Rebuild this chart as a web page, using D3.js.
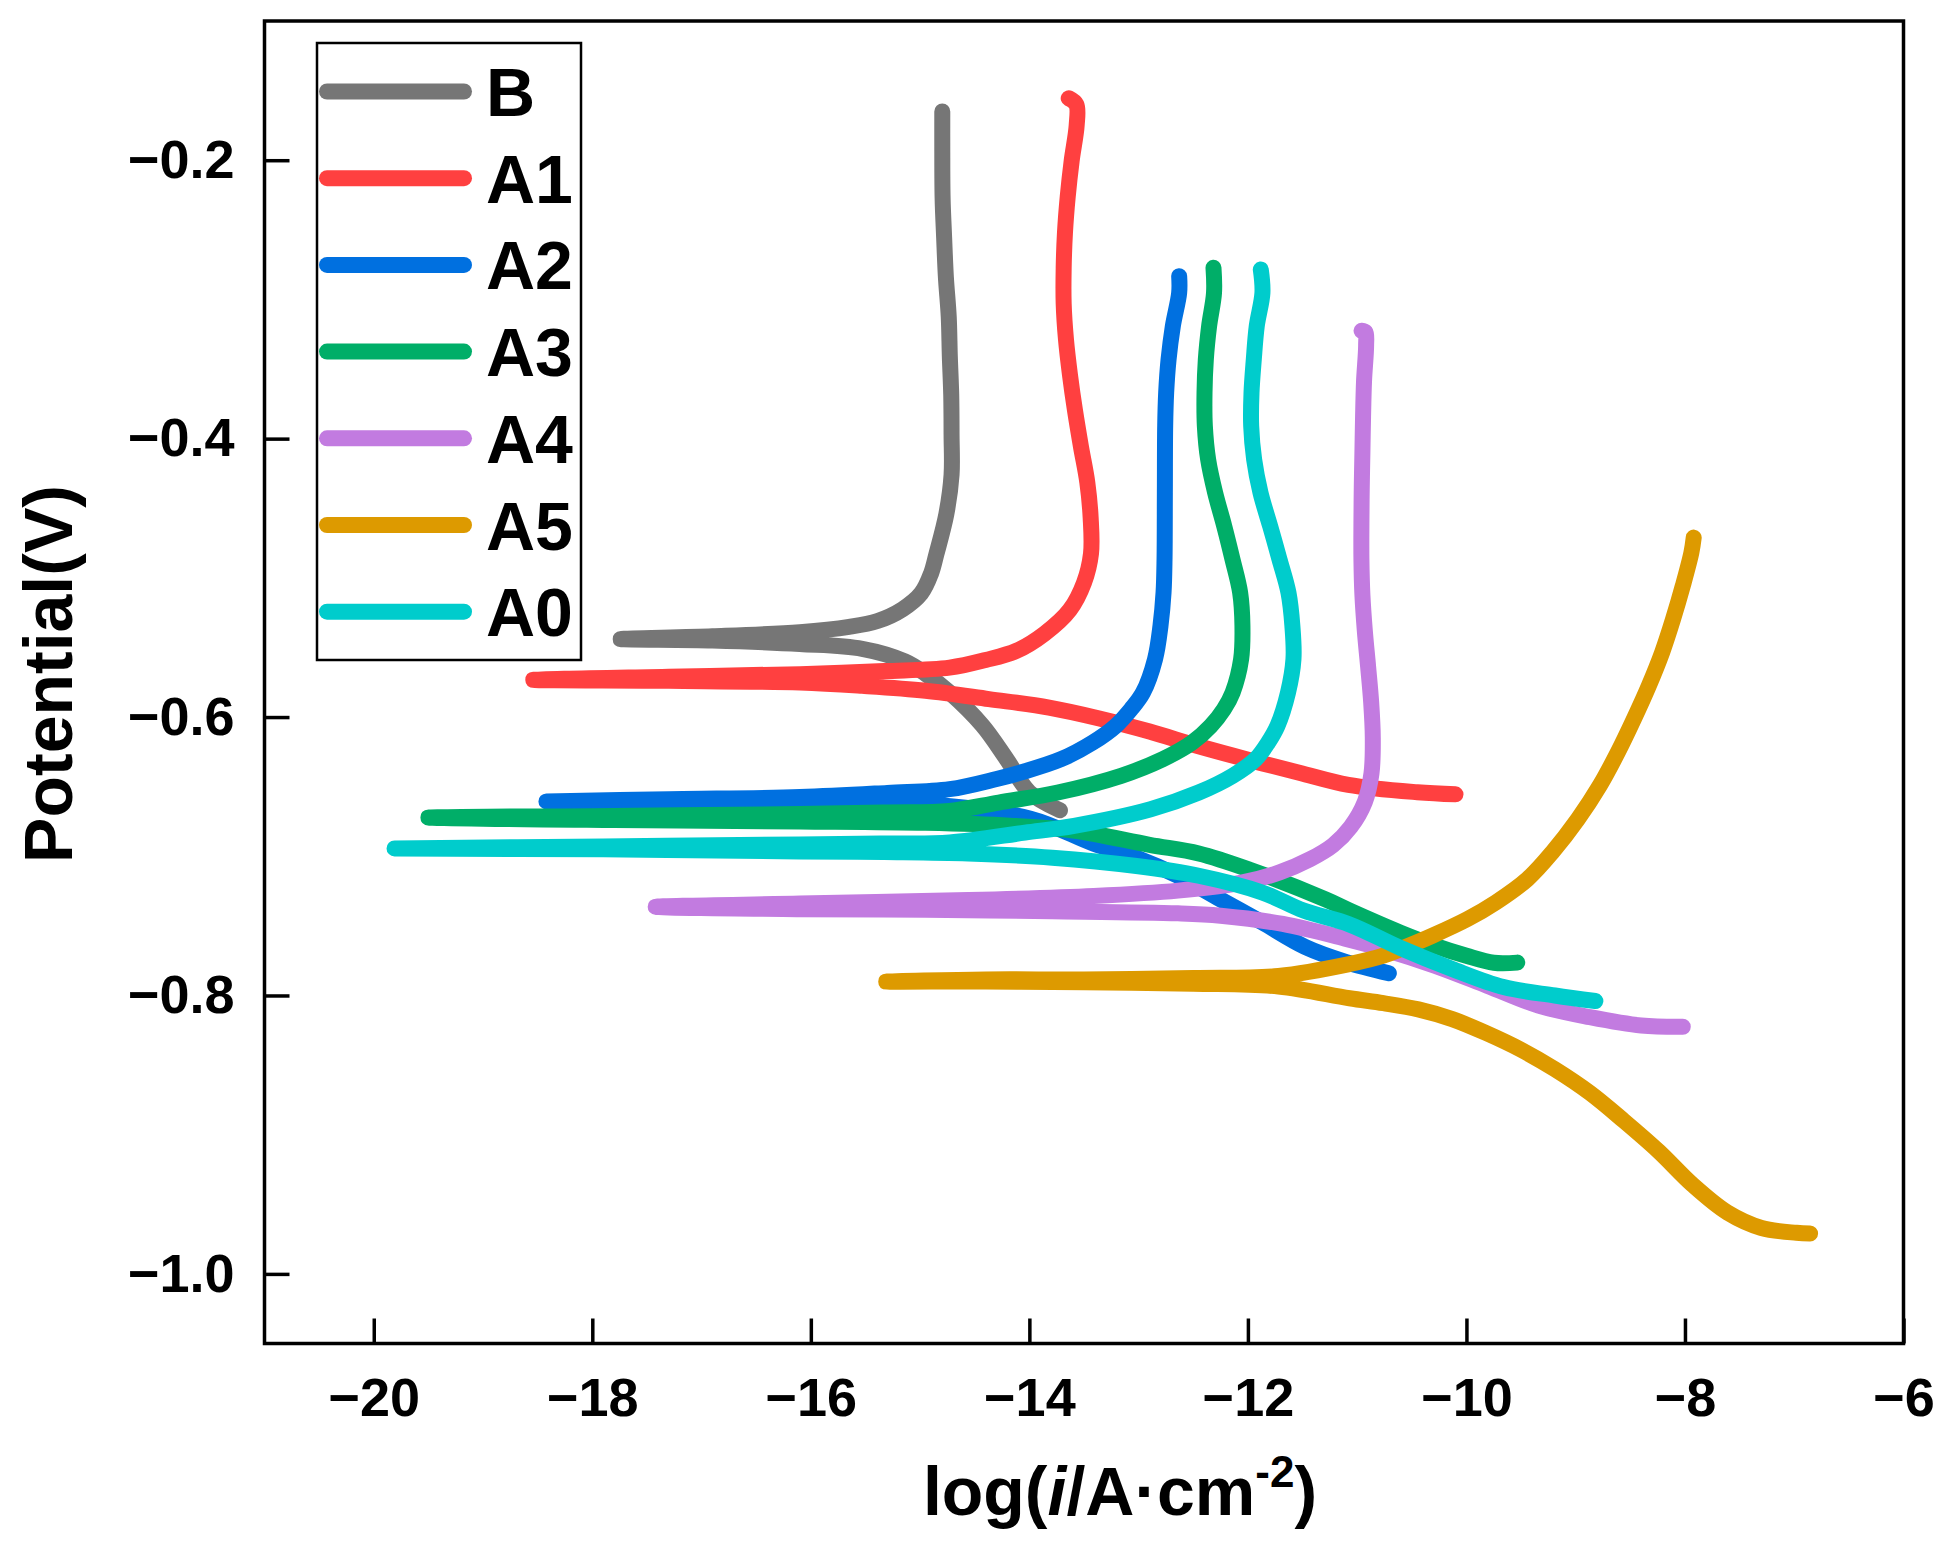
<!DOCTYPE html>
<html>
<head>
<meta charset="utf-8">
<script src="https://cdn.jsdelivr.net/npm/d3@7"></script>
<style>
  html, body { margin: 0; padding: 0; background: #fff; }
  svg { display: block; }
  text { font-family: "Liberation Sans", Arial, Helvetica, sans-serif; font-weight: bold; fill: #000; }
</style>
</head>
<body>
<svg id="chart" width="1947" height="1557"></svg>
<script>
// ---- Data (log i, Potential V), ordered cathodic end -> Ecorr tip -> anodic end ----
const seriesNames = ["B", "A1", "A2", "A3", "A4", "A5", "A0"];
const seriesColors = ["#767676", "#FF4040", "#0070E0", "#00AE68", "#C27BE0", "#DD9A00", "#00CCCC"];

const curveB = [[-13.72,-0.667],[-14.00,-0.654],[-14.21,-0.630],[-14.43,-0.606],[-14.73,-0.5824],[-14.95,-0.569],[-15.14,-0.560],[-15.53,-0.551],[-16.10,-0.5475],[-16.90,-0.545],[-17.74,-0.544],[-16.90,-0.542],[-16.10,-0.539],[-15.65,-0.5352],[-15.39,-0.531],[-15.16,-0.5225],[-14.99,-0.5111],[-14.90,-0.4969],[-14.85,-0.4827],[-14.76,-0.4543],[-14.712,-0.426],[-14.712,-0.3976],[-14.715,-0.369],[-14.728,-0.3408],[-14.738,-0.3124],[-14.764,-0.284],[-14.78,-0.2556],[-14.794,-0.2273],[-14.797,-0.190],[-14.797,-0.165]];

const curveA1 = [[-10.10,-0.6555],[-10.45,-0.654],[-11.08,-0.6487],[-11.53,-0.640],[-11.99,-0.6308],[-12.45,-0.621],[-12.90,-0.6104],[-13.36,-0.601],[-13.82,-0.5932],[-14.37,-0.5871],[-14.95,-0.5811],[-15.53,-0.5776],[-16.10,-0.5752],[-17.30,-0.574],[-18.54,-0.5733],[-17.30,-0.571],[-16.10,-0.5692],[-15.33,-0.567],[-14.73,-0.5645],[-14.40,-0.559],[-14.12,-0.5525],[-13.86,-0.540],[-13.63,-0.523],[-13.50,-0.5035],[-13.436,-0.4826],[-13.439,-0.457],[-13.47,-0.4313],[-13.528,-0.4057],[-13.582,-0.380],[-13.628,-0.3544],[-13.665,-0.3287],[-13.686,-0.3031],[-13.686,-0.2775],[-13.674,-0.2518],[-13.649,-0.2262],[-13.613,-0.2005],[-13.567,-0.1749],[-13.57,-0.160],[-13.64,-0.1555]];

const curveA2 = [[-10.71,-0.784],[-11.10,-0.776],[-11.48,-0.765],[-11.87,-0.7475],[-12.25,-0.731],[-12.64,-0.714],[-13.02,-0.701],[-13.41,-0.691],[-13.99,-0.673],[-14.95,-0.6625],[-16.10,-0.6605],[-17.30,-0.6605],[-18.42,-0.6606],[-17.30,-0.659],[-16.10,-0.6575],[-15.30,-0.6545],[-14.73,-0.6518],[-14.30,-0.6445],[-14.08,-0.6399],[-13.71,-0.6303],[-13.42,-0.6183],[-13.21,-0.6064],[-13.07,-0.5944],[-12.96,-0.5824],[-12.85,-0.5584],[-12.80,-0.5345],[-12.772,-0.5106],[-12.763,-0.4867],[-12.76,-0.4388],[-12.757,-0.3909],[-12.748,-0.367],[-12.726,-0.3431],[-12.687,-0.3192],[-12.629,-0.2952],[-12.629,-0.2833]];

const curveA3 = [[-9.535,-0.7764],[-9.75,-0.7765],[-10.00,-0.7715],[-10.30,-0.764],[-10.60,-0.755],[-11.07,-0.739],[-11.29,-0.731],[-11.99,-0.7095],[-12.45,-0.698],[-12.90,-0.6918],[-13.60,-0.6815],[-14.18,-0.678],[-14.95,-0.676],[-16.10,-0.675],[-17.80,-0.674],[-19.50,-0.6722],[-17.80,-0.671],[-16.10,-0.6697],[-15.30,-0.6685],[-14.73,-0.6674],[-14.28,-0.6614],[-13.74,-0.6542],[-13.16,-0.6422],[-12.78,-0.6303],[-12.51,-0.6183],[-12.34,-0.6064],[-12.22,-0.5944],[-12.14,-0.5824],[-12.062,-0.5584],[-12.05,-0.5345],[-12.071,-0.5106],[-12.141,-0.4867],[-12.217,-0.4627],[-12.30,-0.4388],[-12.364,-0.4149],[-12.394,-0.3909],[-12.397,-0.367],[-12.385,-0.3431],[-12.355,-0.3192],[-12.31,-0.2952],[-12.315,-0.2773]];

const curveA4 = [[-8.02,-0.8225],[-8.40,-0.8216],[-8.87,-0.8156],[-9.34,-0.8073],[-9.81,-0.793],[-10.29,-0.7786],[-10.76,-0.7666],[-11.10,-0.7594],[-11.68,-0.7486],[-12.25,-0.7427],[-12.64,-0.741],[-13.79,-0.7395],[-14.95,-0.7385],[-16.10,-0.738],[-17.42,-0.7363],[-16.10,-0.734],[-14.56,-0.7315],[-13.41,-0.7285],[-12.64,-0.7247],[-12.06,-0.719],[-11.71,-0.7116],[-11.43,-0.7021],[-11.22,-0.692],[-11.06,-0.679],[-10.93,-0.661],[-10.869,-0.6405],[-10.857,-0.6149],[-10.872,-0.5892],[-10.90,-0.5636],[-10.93,-0.538],[-10.952,-0.5123],[-10.961,-0.4867],[-10.961,-0.461],[-10.958,-0.4354],[-10.952,-0.4098],[-10.946,-0.3841],[-10.937,-0.3585],[-10.918,-0.3328],[-10.925,-0.3235],[-10.96,-0.3225]];

const curveA5 = [[-6.855,-0.971],[-6.98,-0.9705],[-7.30,-0.967],[-7.61,-0.956],[-7.93,-0.936],[-8.24,-0.912],[-8.56,-0.890],[-8.87,-0.870],[-9.19,-0.853],[-9.50,-0.839],[-9.82,-0.827],[-10.13,-0.817],[-10.44,-0.810],[-10.76,-0.8055],[-11.07,-0.802],[-11.72,-0.7935],[-12.50,-0.7915],[-13.50,-0.7905],[-14.40,-0.790],[-15.31,-0.790],[-14.40,-0.7885],[-13.50,-0.7885],[-12.50,-0.7875],[-11.72,-0.786],[-11.07,-0.7774],[-10.76,-0.7714],[-10.60,-0.7666],[-10.31,-0.757],[-9.99,-0.7451],[-9.73,-0.7331],[-9.44,-0.7163],[-9.215,-0.6972],[-8.98,-0.6733],[-8.78,-0.6493],[-8.615,-0.6254],[-8.468,-0.6015],[-8.331,-0.5776],[-8.209,-0.5536],[-8.109,-0.5297],[-8.02,-0.5058],[-7.941,-0.4818],[-7.92,-0.4711]];

const curveA0 = [[-8.82,-0.804],[-9.19,-0.800],[-9.66,-0.794],[-10.13,-0.781],[-10.60,-0.766],[-11.07,-0.749],[-11.49,-0.739],[-11.87,-0.726],[-12.45,-0.714],[-13.02,-0.707],[-13.79,-0.701],[-14.56,-0.698],[-15.33,-0.697],[-16.10,-0.6965],[-17.90,-0.695],[-19.81,-0.6944],[-17.90,-0.693],[-16.10,-0.6915],[-15.30,-0.6908],[-14.73,-0.6901],[-14.04,-0.683],[-13.59,-0.6781],[-12.89,-0.6662],[-12.45,-0.6542],[-12.14,-0.6422],[-11.93,-0.6303],[-11.815,-0.6183],[-11.73,-0.6064],[-11.633,-0.5824],[-11.583,-0.5584],[-11.593,-0.5345],[-11.629,-0.5106],[-11.711,-0.4867],[-11.797,-0.4627],[-11.885,-0.4388],[-11.943,-0.4149],[-11.97,-0.3909],[-11.967,-0.367],[-11.946,-0.3431],[-11.919,-0.3192],[-11.867,-0.2952],[-11.882,-0.2785]];

const seriesData = [curveB, curveA1, curveA2, curveA3, curveA4, curveA5, curveA0];

const xTicks = [-20, -18, -16, -14, -12, -10, -8, -6];
const yTicks = [-1.0, -0.8, -0.6, -0.4, -0.2];
const xDomain = [-21, -6];
const yDomain = [-1.05, -0.1];

// ---- Layout ----
const plot = { left: 264.5, right: 1903.5, top: 21, bottom: 1343.5 };
const svg = d3.select("#chart");

const x = d3.scaleLinear().domain(xDomain).range([plot.left, plot.right]);
const y = d3.scaleLinear().domain(yDomain).range([plot.bottom, plot.top]);

// Axes (inward ticks)
const xAxis = d3.axisBottom(x).tickValues(xTicks).tickFormat(d3.format("d"))
  .tickSizeInner(-25).tickSizeOuter(0).tickPadding(34);
const yAxis = d3.axisLeft(y).tickValues(yTicks).tickFormat(d3.format(".1f"))
  .tickSizeInner(-25).tickSizeOuter(0).tickPadding(30);

const gx = svg.append("g").attr("transform", `translate(0,${plot.bottom})`).call(xAxis);
const gy = svg.append("g").attr("transform", `translate(${plot.left},0)`).call(yAxis);
[gx, gy].forEach(g => {
  g.select(".domain").remove();
  g.selectAll(".tick line").attr("stroke", "#000").attr("stroke-width", 3.5);
  g.selectAll(".tick text").attr("font-size", 54).attr("fill", "#000")
    .style("font-family", '"Liberation Sans", Arial, sans-serif').style("font-weight", "bold");
});

// Curves
const line = d3.line()
  .x(d => x(d[0])).y(d => y(d[1]))
  .curve(d3.curveCatmullRom.alpha(0.5));

svg.append("g").selectAll("path")
  .data(seriesData)
  .join("path")
  .attr("d", d => line(d))
  .attr("fill", "none")
  .attr("stroke", (d, i) => seriesColors[i])
  .attr("stroke-width", 16)
  .attr("stroke-linecap", "round")
  .attr("stroke-linejoin", "round");

// Frame
svg.append("rect")
  .attr("x", plot.left).attr("y", plot.top)
  .attr("width", plot.right - plot.left).attr("height", plot.bottom - plot.top)
  .attr("fill", "none").attr("stroke", "#000").attr("stroke-width", 3.5);

// Legend
const legend = { x0: 317, y0: 43, x1: 581, y1: 660, firstY: 91.5, step: 86.7 };
svg.append("rect")
  .attr("x", legend.x0).attr("y", legend.y0)
  .attr("width", legend.x1 - legend.x0).attr("height", legend.y1 - legend.y0)
  .attr("fill", "#fff").attr("stroke", "#000").attr("stroke-width", 2.5);

const lg = svg.append("g").selectAll("g").data(seriesNames).join("g")
  .attr("transform", (d, i) => `translate(0,${legend.firstY + i * legend.step})`);
lg.append("line")
  .attr("x1", 327).attr("x2", 464).attr("y1", 0).attr("y2", 0)
  .attr("stroke", (d, i) => seriesColors[i]).attr("stroke-width", 16)
  .attr("stroke-linecap", "round");
lg.append("text")
  .attr("x", 486).attr("y", 24.5)
  .attr("font-size", 68)
  .text(d => d);

// Axis titles
svg.append("text")
  .attr("transform", "translate(72,674) rotate(-90)")
  .attr("text-anchor", "middle")
  .attr("font-size", 68)
  .text("Potential(V)");

const xt = svg.append("text")
  .attr("x", 1120).attr("y", 1515)
  .attr("text-anchor", "middle")
  .attr("font-size", 68);
xt.append("tspan").text("log(");
xt.append("tspan").attr("font-style", "italic").text("i");
xt.append("tspan").text("/A·cm");
xt.append("tspan").attr("font-size", 44).attr("dy", -28).text("-2");
xt.append("tspan").attr("dy", 28).text(")");
</script>
</body>
</html>
